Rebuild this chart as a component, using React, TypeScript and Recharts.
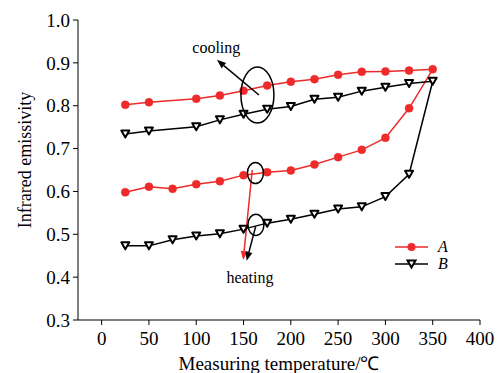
import { Line, LineChart, ReferenceDot, ReferenceLine, XAxis, YAxis, Label } from "recharts";

// Sample A: heating 25 -> 350 °C, then cooling 350 -> 25 °C
const heatTempsA = [25, 50, 75, 100, 125, 150, 175, 200, 225, 250, 275, 300, 325, 350];
const heatValsA = [0.598, 0.611, 0.606, 0.617, 0.624, 0.638, 0.645, 0.649, 0.663, 0.68, 0.697, 0.725, 0.794, 0.885];
const coolTempsA = [325, 300, 275, 250, 225, 200, 175, 150, 125, 100, 50, 25];
const coolValsA = [0.882, 0.88, 0.879, 0.872, 0.862, 0.856, 0.847, 0.835, 0.824, 0.816, 0.808, 0.802];

// Sample B
const heatTempsB = [25, 50, 75, 100, 125, 150, 175, 200, 225, 250, 275, 300, 325, 350];
const heatValsB = [0.473, 0.473, 0.487, 0.496, 0.501, 0.512, 0.526, 0.535, 0.547, 0.559, 0.564, 0.588, 0.64, 0.857];
const coolTempsB = [325, 300, 275, 250, 225, 200, 175, 150, 125, 100, 50, 25];
const coolValsB = [0.852, 0.843, 0.834, 0.82, 0.815, 0.798, 0.792, 0.78, 0.767, 0.751, 0.741, 0.734];

const xTicks = [0, 50, 100, 150, 200, 250, 300, 350, 400];
const yTicks = [0.3, 0.4, 0.5, 0.6, 0.7, 0.8, 0.9, 1.0];

const toPoints = (temps: number[], vals: number[]) => temps.map((t, i) => ({ t, v: vals[i] }));
const seriesA = [...toPoints(heatTempsA, heatValsA), ...toPoints(coolTempsA, coolValsA)];
const seriesB = [...toPoints(heatTempsB, heatValsB), ...toPoints(coolTempsB, coolValsB)];

const RED = "#ee2a2a";
const FONT = "'Liberation Serif', 'Times New Roman', serif";

const Tri = (props: any) => {
  const { cx, cy } = props;
  if (cx == null || cy == null) return null;
  return (
    <polygon
      points={`${cx - 4},${cy - 3.5} ${cx + 4},${cy - 3.5} ${cx},${cy + 3.5}`}
      fill="#fff"
      stroke="#000"
      strokeWidth={2}
      strokeLinejoin="round"
    />
  );
};

const arrow = (color: string) => (props: any) => {
  const { x1, y1, x2, y2 } = props;
  const a = Math.atan2(y2 - y1, x2 - x1);
  const len = 9;
  const w = 3.5;
  const bx = x2 - len * Math.cos(a);
  const by = y2 - len * Math.sin(a);
  const px = -Math.sin(a) * w;
  const py = Math.cos(a) * w;
  return (
    <g>
      <line x1={x1} y1={y1} x2={bx} y2={by} stroke={color} strokeWidth={1.5} />
      <polygon points={`${x2},${y2} ${bx + px},${by + py} ${bx - px},${by - py}`} fill={color} />
    </g>
  );
};

const ellipse = (rx: number, ry: number) => (props: any) => (
  <ellipse cx={props.cx} cy={props.cy} rx={rx} ry={ry} fill="none" stroke="#000" strokeWidth={1.5} />
);

const note = (text: string) => (props: any) => (
  <text x={props.cx} y={props.cy} textAnchor="middle" dominantBaseline="central" fontFamily={FONT} fontSize={16} fill="#000">
    {text}
  </text>
);

const LegendBox = () => (
  <div style={{ position: "absolute", left: 394, top: 238, fontFamily: FONT, fontStyle: "italic", fontSize: 16, lineHeight: "16px" }}>
    <div style={{ display: "flex", alignItems: "center", height: 17 }}>
      <svg width={36} height={12}>
        <line x1={1} y1={6} x2={34} y2={6} stroke={RED} strokeWidth={1.5} />
        <circle cx={17.5} cy={6} r={4} fill={RED} />
      </svg>
      <span style={{ marginLeft: 8 }}>A</span>
    </div>
    <div style={{ display: "flex", alignItems: "center", height: 17 }}>
      <svg width={36} height={12}>
        <line x1={1} y1={6} x2={34} y2={6} stroke="#000" strokeWidth={1.5} />
        <polygon points="13.5,2.5 21.5,2.5 17.5,9.5" fill="#fff" stroke="#000" strokeWidth={2} />
      </svg>
      <span style={{ marginLeft: 8 }}>B</span>
    </div>
  </div>
);

export default function App() {
  return (
    <div style={{ position: "absolute", left: 0, top: 0, width: 500, height: 373, background: "#fff" }}>
      <LineChart width={500} height={373} margin={{ top: 20, right: 20, left: 0, bottom: 0 }}>
        <XAxis
          type="number"
          dataKey="t"
          domain={[-25, 400]}
          ticks={xTicks}
          allowDataOverflow
          height={53}
          tickSize={5}
          tickMargin={7}
          stroke="#000"
          tick={{ fill: "#000", fontSize: 19, fontFamily: FONT }}
        >
          <Label value="Measuring temperature/℃" position="insideBottom" offset={3} style={{ fontFamily: FONT, fontSize: 19, fill: "#000" }} />
        </XAxis>
        <YAxis
          type="number"
          domain={[0.3, 1.0]}
          ticks={yTicks}
          width={78}
          tickSize={5}
          tickMargin={3}
          stroke="#000"
          tickFormatter={(v: number) => v.toFixed(1)}
          tick={{ fill: "#000", fontSize: 19, fontFamily: FONT }}
        >
          <Label
            content={(p: any) => {
              const vb = p.viewBox;
              const x = vb.x + 25;
              const y = vb.y + vb.height / 2 - 10;
              return (
                <text x={x} y={y} transform={`rotate(-90 ${x} ${y})`} textAnchor="middle" dominantBaseline="central" fontFamily={FONT} fontSize={18} fill="#000">
                  Infrared emissivity
                </text>
              );
            }}
          />
        </YAxis>
        <Line
          name="A"
          data={seriesA}
          dataKey="v"
          stroke={RED}
          strokeWidth={1.5}
          dot={{ r: 4, fill: RED, stroke: RED, strokeWidth: 0.5 }}
          isAnimationActive={false}
        />
        <Line
          name="B"
          data={seriesB}
          dataKey="v"
          stroke="#000"
          strokeWidth={1.5}
          dot={<Tri />}
          isAnimationActive={false}
        />
        <ReferenceDot x={164.7} y={0.825} r={0} shape={ellipse(16.5, 28)} />
        <ReferenceDot x={162.6} y={0.643} r={0} shape={ellipse(8, 10.5)} />
        <ReferenceDot x={163.1} y={0.522} r={0} shape={ellipse(8, 10.7)} />
        <ReferenceLine segment={[{ x: 166.3, y: 0.825 }, { x: 121.9, y: 0.907 }]} shape={arrow("#000")} />
        <ReferenceLine segment={[{ x: 159.2, y: 0.65 }, { x: 149.7, y: 0.44 }]} shape={arrow(RED)} />
        <ReferenceLine segment={[{ x: 162.8, y: 0.518 }, { x: 153.3, y: 0.438 }]} shape={arrow("#000")} />
        <ReferenceDot x={121.2} y={0.935} r={0} shape={note("cooling")} />
        <ReferenceDot x={156.8} y={0.4} r={0} shape={note("heating")} />
      </LineChart>
      <LegendBox />
    </div>
  );
}
